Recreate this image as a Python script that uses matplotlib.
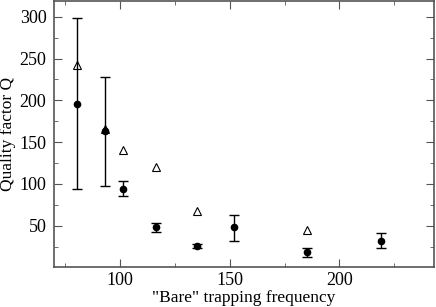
import matplotlib.pyplot as plt
import numpy as np

freq = [80.5, 93, 101.5, 116.5, 135, 152, 185, 219]
q_meas = [196, 163, 94, 48, 26, 48, 18, 32]
q_lo = [94, 97, 85, 42, 23.5, 32, 12, 23]
q_hi = [298, 228, 103, 53, 28.5, 63, 23, 41]

# theory points (open triangles)
freq_th = [80.5, 93, 101.5, 116.5, 135, 185]
q_th = [242, 166, 141, 120, 68, 45]

plt.rcParams['font.family'] = ['Liberation Serif', 'DejaVu Serif']

fig = plt.figure(figsize=(4.36, 3.07), dpi=100)
ax = fig.add_axes([0.124, 0.129, 0.871, 0.868])

yerr = [np.array(q_meas) - np.array(q_lo), np.array(q_hi) - np.array(q_meas)]
ax.errorbar(freq, q_meas, yerr=yerr, fmt='o', color='black', ms=4.5,
            ecolor='black', elinewidth=1, capsize=3.5, capthick=1, zorder=3)
ax.plot(freq_th, q_th, '^', mfc='none', mec='black', ms=5.5, mew=0.8, zorder=4)

ax.set_xlim(70, 243)
ax.set_ylim(0, 319)
ax.set_xticks([100, 150, 200])
ax.set_xticks([75, 125, 175, 225], minor=True)
ax.set_yticks([50, 100, 150, 200, 250, 300])
ax.set_yticks([25, 75, 125, 175, 225, 275], minor=True)

ax.tick_params(which='both', direction='in', top=True, right=True,
               labelsize=13, color='#555555')
ax.tick_params(which='major', length=6)
ax.tick_params(which='minor', length=3)
ax.tick_params(axis='x', which='major', pad=3.5)
ax.tick_params(axis='y', which='major', pad=5.5)
for s in ax.spines.values():
    s.set_color('#555555')
    s.set_linewidth(1.2)

ax.set_xlabel('"Bare" trapping frequency', fontsize=12.5, labelpad=0.5)
ax.set_ylabel('Quality factor Q', fontsize=12.5, labelpad=2.5)

fig.savefig('out.png', dpi=100)
